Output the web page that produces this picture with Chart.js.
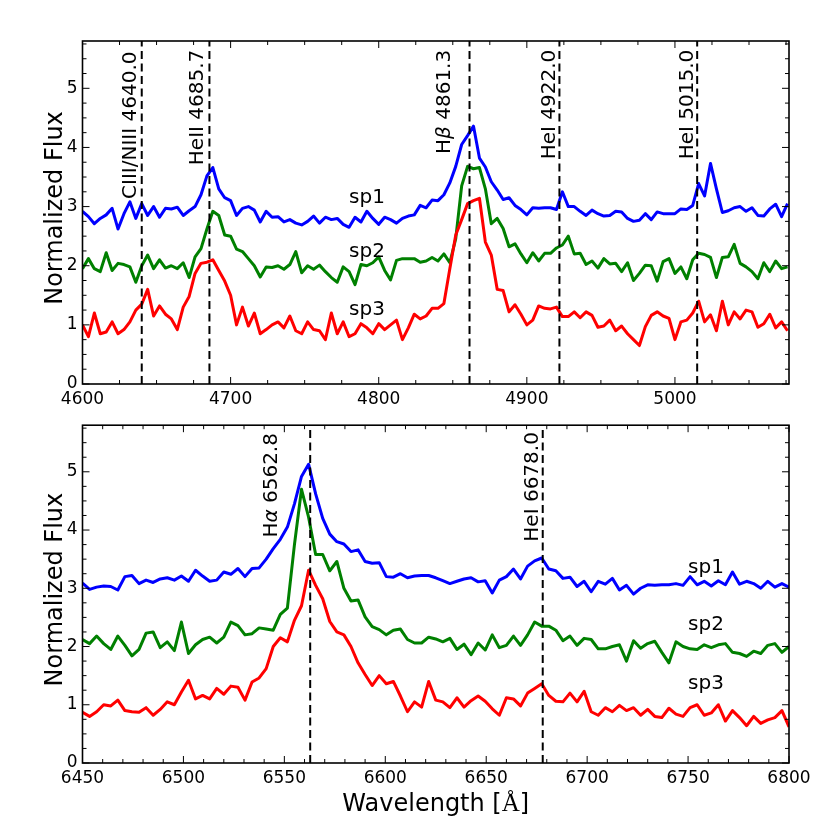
<!DOCTYPE html>
<html>
<head>
<meta charset="utf-8">
<script src="https://cdn.jsdelivr.net/npm/chart.js@4.4.1/dist/chart.umd.min.js"></script>
<style>
html,body{margin:0;padding:0;background:#fff;}
#wrap{position:relative;width:830px;height:830px;background:#fff;}
canvas{position:absolute;left:0;}
</style>
</head>
<body>
<div id="wrap">
<canvas id="c1" width="830" height="410" style="top:0;width:830px;height:410px"></canvas>
<canvas id="c2" width="830" height="420" style="top:410px;width:830px;height:420px"></canvas>
</div>
<script>
// ---------------- DATA ----------------
const seriesNames = ['sp1', 'sp2', 'sp3'];

const topWaves = [4600,4604,4608,4612,4616,4620,4624,4628,4632,4636,4640,4644,4648,4652,4656,4660,4664,4668,4672,4676,
4680,4684,4688,4692,4696,4700,4704,4708,4712,4716,4720,4724,4728,4732,4736,4740,4744,4748,4752,4756,
4760,4764,4768,4772,4776,4780,4784,4788,4792,4796,4800,4804,4808,4812,4816,4820,4824,4828,4832,4836,
4840,4844,4848,4852,4856,4860,4864,4868,4872,4876,4880,4884,4888,4892,4896,4900,4904,4908,4912,4916,
4920,4924,4928,4932,4936,4940,4944,4948,4952,4956,4960,4964,4968,4972,4976,4980,4984,4988,4992,4996,
5000,5004,5008,5012,5016,5020,5024,5028,5032,5036,5040,5044,5048,5052,5056,5060,5064,5068,5072,5076];

const topSp1 = [2.92,2.83,2.71,2.80,2.86,2.97,2.62,2.88,3.08,2.80,3.05,2.85,3.00,2.82,2.97,2.96,2.99,2.85,2.93,3.00,
3.20,3.52,3.66,3.30,3.15,3.10,2.85,2.97,3.00,2.94,2.74,2.92,2.82,2.83,2.74,2.78,2.72,2.69,2.75,2.84,
2.72,2.82,2.78,2.80,2.70,2.65,2.82,2.74,2.92,2.80,2.70,2.82,2.78,2.72,2.80,2.84,2.86,3.02,2.98,3.11,
3.10,3.20,3.40,3.68,4.05,4.20,4.36,3.82,3.67,3.42,3.28,3.12,3.15,3.02,2.95,2.86,2.98,2.97,2.98,2.98,
2.95,3.25,3.00,3.00,2.92,2.85,2.94,2.88,2.84,2.85,2.92,2.91,2.80,2.75,2.77,2.88,2.78,2.91,2.88,2.88,
2.88,2.96,2.95,3.02,3.39,3.18,3.73,3.30,2.90,2.93,2.98,3.00,2.92,2.98,2.85,2.84,2.96,3.04,2.83,3.05];

const topSp2 = [1.95,2.12,1.95,1.90,2.22,1.92,2.04,2.02,1.98,1.72,2.00,2.18,1.95,2.10,1.96,2.00,1.95,2.05,1.80,2.15,
2.29,2.62,2.92,2.85,2.52,2.50,2.28,2.24,2.12,2.00,1.81,1.98,1.97,2.00,1.94,2.02,2.24,1.88,2.00,1.94,
2.01,1.90,1.80,1.72,1.98,1.90,1.68,2.02,2.00,2.05,2.15,1.92,1.76,2.09,2.12,2.12,2.12,2.06,2.08,2.14,
2.08,2.20,2.05,2.46,3.35,3.68,3.64,3.66,3.30,2.71,2.80,2.63,2.32,2.37,2.20,2.05,2.22,2.08,2.21,2.21,
2.30,2.35,2.50,2.20,2.21,2.02,2.08,1.96,2.12,2.03,2.04,1.90,2.05,1.75,1.87,2.01,2.00,1.74,2.07,2.12,
1.87,1.98,1.78,2.10,2.21,2.19,2.14,1.80,2.14,2.15,2.36,2.04,1.98,1.90,1.78,2.05,1.90,2.08,1.95,1.98];

const topSp3 = [1.00,0.80,1.20,0.85,0.88,1.05,0.85,0.92,1.05,1.25,1.35,1.60,1.15,1.32,1.18,1.10,0.92,1.30,1.48,1.87,
2.04,2.06,2.10,1.92,1.74,1.50,1.00,1.30,0.98,1.20,0.85,0.92,1.00,1.05,0.95,1.15,0.90,0.85,1.05,0.92,
0.90,0.75,1.20,0.85,1.05,0.80,0.85,1.02,0.95,0.85,1.02,0.92,1.00,1.08,0.75,0.95,1.18,1.10,1.15,1.28,
1.28,1.36,1.95,2.52,2.78,3.05,3.10,3.14,2.40,2.18,1.60,1.58,1.22,1.34,1.18,1.00,1.08,1.32,1.28,1.27,
1.30,1.14,1.14,1.22,1.12,1.22,1.16,0.96,0.98,1.08,0.90,0.98,0.85,0.75,0.65,0.97,1.16,1.22,1.15,1.11,
0.75,1.05,1.08,1.20,1.40,1.05,1.17,0.90,1.40,1.00,1.22,1.10,1.25,1.22,0.96,1.02,1.18,0.95,1.05,0.90];

const botWaves = [6450,6453.5,6457,6460.5,6464,6467.5,6471,6474.5,6478,6481.5,
6485,6488.5,6492,6495.5,6499,6502.5,6506,6509.5,6513,6516.5,
6520,6523.5,6527,6530.5,6534,6537.5,6541,6544.5,6548,6551.5,
6555,6558.5,6562,6565.5,6569,6572.5,6576,6579.5,6583,6586.5,
6590,6593.5,6597,6600.5,6604,6607.5,6611,6614.5,6618,6621.5,
6625,6628.5,6632,6635.5,6639,6642.5,6646,6649.5,6653,6656.5,
6660,6663.5,6667,6670.5,6674,6677.5,6681,6684.5,6688,6691.5,
6695,6698.5,6702,6705.5,6709,6712.5,6716,6719.5,6723,6726.5,
6730,6733.5,6737,6740.5,6744,6747.5,6751,6754.5,6758,6761.5,
6765,6768.5,6772,6775.5,6779,6782.5,6786,6789.5,6793,6796.5,
6800];

const botSp1 = [3.09,2.98,3.02,3.04,3.03,2.97,3.20,3.22,3.08,3.14,
3.10,3.16,3.18,3.14,3.21,3.12,3.31,3.21,3.12,3.14,
3.28,3.24,3.34,3.20,3.34,3.35,3.50,3.68,3.84,4.05,
4.45,4.92,5.13,4.62,4.20,3.93,3.80,3.76,3.63,3.66,
3.46,3.43,3.44,3.20,3.19,3.25,3.18,3.21,3.22,3.22,
3.18,3.13,3.08,3.12,3.16,3.18,3.11,3.13,2.92,3.14,
3.20,3.33,3.16,3.38,3.47,3.52,3.33,3.30,3.17,3.19,
3.03,3.12,2.94,3.12,3.07,3.17,2.97,3.05,2.90,3.00,
3.06,3.05,3.06,3.06,3.08,3.05,3.20,3.06,3.12,3.04,
3.13,3.06,3.28,3.07,3.12,3.08,3.00,3.12,3.02,3.08,
3.02];

const botSp2 = [2.12,2.05,2.18,2.05,1.95,2.18,2.02,1.84,1.95,2.23,
2.25,1.98,2.08,1.93,2.42,1.88,2.03,2.12,2.16,2.06,
2.16,2.42,2.36,2.20,2.22,2.32,2.30,2.28,2.55,2.66,
3.75,4.70,4.22,3.58,3.58,3.30,3.46,3.00,2.78,2.80,
2.51,2.34,2.29,2.20,2.28,2.30,2.12,2.06,2.06,2.16,
2.13,2.08,2.14,1.95,2.04,1.86,2.06,1.94,2.20,1.98,
2.02,2.18,2.02,2.20,2.42,2.35,2.35,2.28,2.10,2.18,
2.02,2.14,2.12,1.96,1.96,2.00,2.03,1.75,2.10,1.97,
2.05,2.09,1.90,1.72,2.08,2.00,1.96,1.95,2.03,1.98,
2.03,2.05,1.90,1.88,1.83,1.92,1.88,2.02,2.05,1.90,
2.00];

const botSp3 = [0.87,0.80,0.88,1.00,0.98,1.08,0.90,0.88,0.87,0.95,
0.82,0.92,1.05,1.00,1.22,1.42,1.10,1.16,1.10,1.28,
1.18,1.32,1.30,1.08,1.39,1.46,1.62,2.00,2.15,2.08,
2.45,2.70,3.31,3.05,2.82,2.43,2.25,2.20,2.00,1.72,
1.52,1.33,1.50,1.36,1.40,1.15,0.88,1.05,0.96,1.40,
1.08,1.05,0.95,1.12,0.96,1.07,1.15,1.06,0.93,0.82,
1.12,1.10,0.98,1.20,1.28,1.36,1.16,1.06,1.05,1.20,
1.05,1.23,0.88,0.82,0.95,0.88,0.99,0.90,0.95,0.82,
0.92,0.80,0.78,0.94,0.84,0.80,0.95,1.00,0.82,0.86,
1.00,0.72,0.90,0.78,0.64,0.80,0.68,0.74,0.78,0.90,
0.62];

const topXTicks = [4600, 4700, 4800, 4900, 5000];
const botXTicks = [6450, 6500, 6550, 6600, 6650, 6700, 6750, 6800];
const yTicks = [0, 1, 2, 3, 4, 5];

const topLineWaves = [4640.0, 4685.7, 4861.3, 4922.0, 5015.0];
const topLineLabels = ['CIII/NIII 4640.0', 'HeII 4685.7', 'H\u03b2 4861.3', 'HeI 4922.0', 'HeI 5015.0'];
const botLineWaves = [6562.8, 6678.0];
const botLineLabels = ['H\u03b1 6562.8', 'HeI 6678.0'];

// ---------------- STYLE / LAYOUT ----------------
const seriesColors = ['#0000ff', '#008000', '#ff0000'];
const FONT = '"DejaVu Sans"';

const topSpec = {
  id: 'top', waves: topWaves, series: [topSp1, topSp2, topSp3],
  xMin: 4600, xMax: 5077, xTicks: topXTicks, xMinorStep: 25,
  lineWaves: topLineWaves, lineLabels: topLineLabels,
  labelX: [4635.8, 4681.6, 4848.3, 4919.2, 5012.3],
  labelY: [3.13, 3.70, 3.89, 3.80, 3.80],
  spX: 4780, spY: [3.06, 2.15, 1.17],
  padTop: 41, xHeight: 26, xTitle: false
};
const botSpec = {
  id: 'bot', waves: botWaves, series: [botSp1, botSp2, botSp3],
  xMin: 6450, xMax: 6800, xTicks: botXTicks, xMinorStep: 10,
  lineWaves: botLineWaves, lineLabels: botLineLabels,
  labelX: [6546.5, 6675.7],
  labelY: [3.87, 3.80],
  spX: 6750, spY: [3.26, 2.28, 1.27],
  padTop: 10, xHeight: 67, xTitle: true
};

function drawRuns(ctx, text, size, x0) {
  // split into greek (italic) and normal runs
  const runs = [];
  let cur = '', curG = null;
  for (const ch of text) {
    const g = /[\u03b1-\u03c9]/.test(ch);
    if (curG === null || g === curG) { cur += ch; curG = g; }
    else { runs.push([cur, curG]); cur = ch; curG = g; }
  }
  if (cur) runs.push([cur, curG]);
  let off = x0 || 0;
  runs.forEach(([t, g]) => {
    ctx.font = (g ? 'italic ' : '') + size + 'px ' + FONT;
    ctx.fillText(t, off, 0);
    off += ctx.measureText(t).width;
  });
}

function makeDecor(spec) {
  return {
    id: 'decor_' + spec.id,
    afterDatasetsDraw(chart) {
      const ctx = chart.ctx, a = chart.chartArea;
      const xs = chart.scales.x, ys = chart.scales.y;
      // dashed reference lines
      ctx.save();
      ctx.beginPath(); ctx.rect(a.left, a.top, a.right - a.left, a.bottom - a.top); ctx.clip();
      ctx.strokeStyle = '#000'; ctx.lineWidth = 2; ctx.setLineDash([8, 4.5]); ctx.lineCap = 'butt';
      spec.lineWaves.forEach(w => {
        const px = xs.getPixelForValue(w);
        ctx.beginPath(); ctx.moveTo(px, a.bottom); ctx.lineTo(px, a.top); ctx.stroke();
      });
      ctx.restore();

      // rotated line labels
      ctx.save();
      ctx.fillStyle = '#000';
      spec.lineLabels.forEach((t, i) => {
        const px = xs.getPixelForValue(spec.labelX[i]);
        const py = ys.getPixelForValue(spec.labelY[i]);
        ctx.save();
        ctx.translate(px, py); ctx.rotate(-Math.PI / 2);
        ctx.textAlign = 'left'; ctx.textBaseline = 'alphabetic';
        drawRuns(ctx, t, 20, 0);
        ctx.restore();
      });
      // series labels
      ctx.font = '20px ' + FONT; ctx.textAlign = 'left'; ctx.textBaseline = 'alphabetic';
      seriesNames.forEach((n, i) => {
        ctx.fillText(n, xs.getPixelForValue(spec.spX), ys.getPixelForValue(spec.spY[i]));
      });
      ctx.restore();
    },
    afterDraw(chart) {
      const ctx = chart.ctx, a = chart.chartArea;
      const xs = chart.scales.x, ys = chart.scales.y;
      ctx.save();
      ctx.strokeStyle = '#000';
      // ticks (inward, all sides)
      ctx.lineWidth = 1;
      const tick = (x1, y1, x2, y2) => { ctx.beginPath(); ctx.moveTo(x1, y1); ctx.lineTo(x2, y2); ctx.stroke(); };
      for (let v = spec.xMin; v <= spec.xMax + 1e-6; v += spec.xMinorStep) {
        const px = xs.getPixelForValue(v);
        const major = spec.xTicks.indexOf(Math.round(v)) >= 0;
        const L = major ? 7 : 4;
        tick(px, a.bottom, px, a.bottom - L);
        tick(px, a.top, px, a.top + L);
      }
      for (let k = 0; k * 0.25 <= 5.8; k++) {
        const v = k * 0.25;
        const py = ys.getPixelForValue(v);
        const L = (k % 4 === 0) ? 7 : 4;
        tick(a.left, py, a.left + L, py);
        tick(a.right, py, a.right - L, py);
      }
      // frame
      ctx.lineWidth = 1.6;
      ctx.strokeRect(a.left, a.top, a.right - a.left, a.bottom - a.top);

      // y title
      ctx.fillStyle = '#000';
      ctx.save();
      ctx.translate(62, (a.top + a.bottom) / 2 - 4.5);
      ctx.rotate(-Math.PI / 2);
      ctx.font = '24px ' + FONT; ctx.textAlign = 'center'; ctx.textBaseline = 'alphabetic';
      ctx.fillText('Normalized Flux', 0, 0);
      ctx.restore();

      // x title
      if (spec.xTitle) {
        const parts = [['Wavelength [', '24px ' + FONT], ['\u00c5', '25px "Liberation Serif"'], [']', '24px ' + FONT]];
        let total = 0;
        parts.forEach(p => { ctx.font = p[1]; total += ctx.measureText(p[0]).width; });
        let x = (a.left + a.right) / 2 - total / 2;
        const y = a.bottom + 48;
        ctx.textAlign = 'left'; ctx.textBaseline = 'alphabetic';
        parts.forEach(p => { ctx.font = p[1]; ctx.fillText(p[0], x, y); x += ctx.measureText(p[0]).width; });
      }
      ctx.restore();
    }
  };
}

function makePanel(canvasId, spec) {
  const datasets = spec.series.map((vals, i) => ({
    label: seriesNames[i],
    data: spec.waves.map((w, j) => ({ x: w, y: vals[j] })),
    borderColor: seriesColors[i],
    backgroundColor: seriesColors[i],
    borderWidth: 3,
    pointRadius: 0,
    pointHoverRadius: 0,
    tension: 0,
    fill: false,
    borderJoinStyle: 'round',
    borderCapStyle: 'butt',
    clip: 0,
    order: 3 - i
  }));
  return new Chart(document.getElementById(canvasId), {
    type: 'line',
    data: { datasets },
    options: {
      responsive: false,
      animation: false,
      events: [],
      layout: { padding: { left: 0, right: 41, top: spec.padTop, bottom: 0 } },
      plugins: { legend: { display: false }, tooltip: { enabled: false }, title: { display: false } },
      scales: {
        x: {
          type: 'linear', min: spec.xMin, max: spec.xMax,
          grid: { display: false, drawTicks: false }, border: { display: false },
          afterBuildTicks: s => { s.ticks = spec.xTicks.map(v => ({ value: v })); },
          afterFit: s => { s.height = spec.xHeight; },
          ticks: { color: '#000', font: { family: 'DejaVu Sans', size: 17 }, padding: 5,
                   maxRotation: 0, minRotation: 0, autoSkip: false, callback: v => String(v) }
        },
        y: {
          type: 'linear', min: 0, max: 5.8,
          grid: { display: false, drawTicks: false }, border: { display: false },
          afterBuildTicks: s => { s.ticks = yTicks.map(v => ({ value: v })); },
          afterFit: s => { s.width = 82.5; },
          ticks: { color: '#000', font: { family: 'DejaVu Sans', size: 17 }, padding: 5,
                   autoSkip: false, callback: v => String(v) }
        }
      }
    },
    plugins: [makeDecor(spec)]
  });
}

makePanel('c1', topSpec);
makePanel('c2', botSpec);
</script>
</body>
</html>
